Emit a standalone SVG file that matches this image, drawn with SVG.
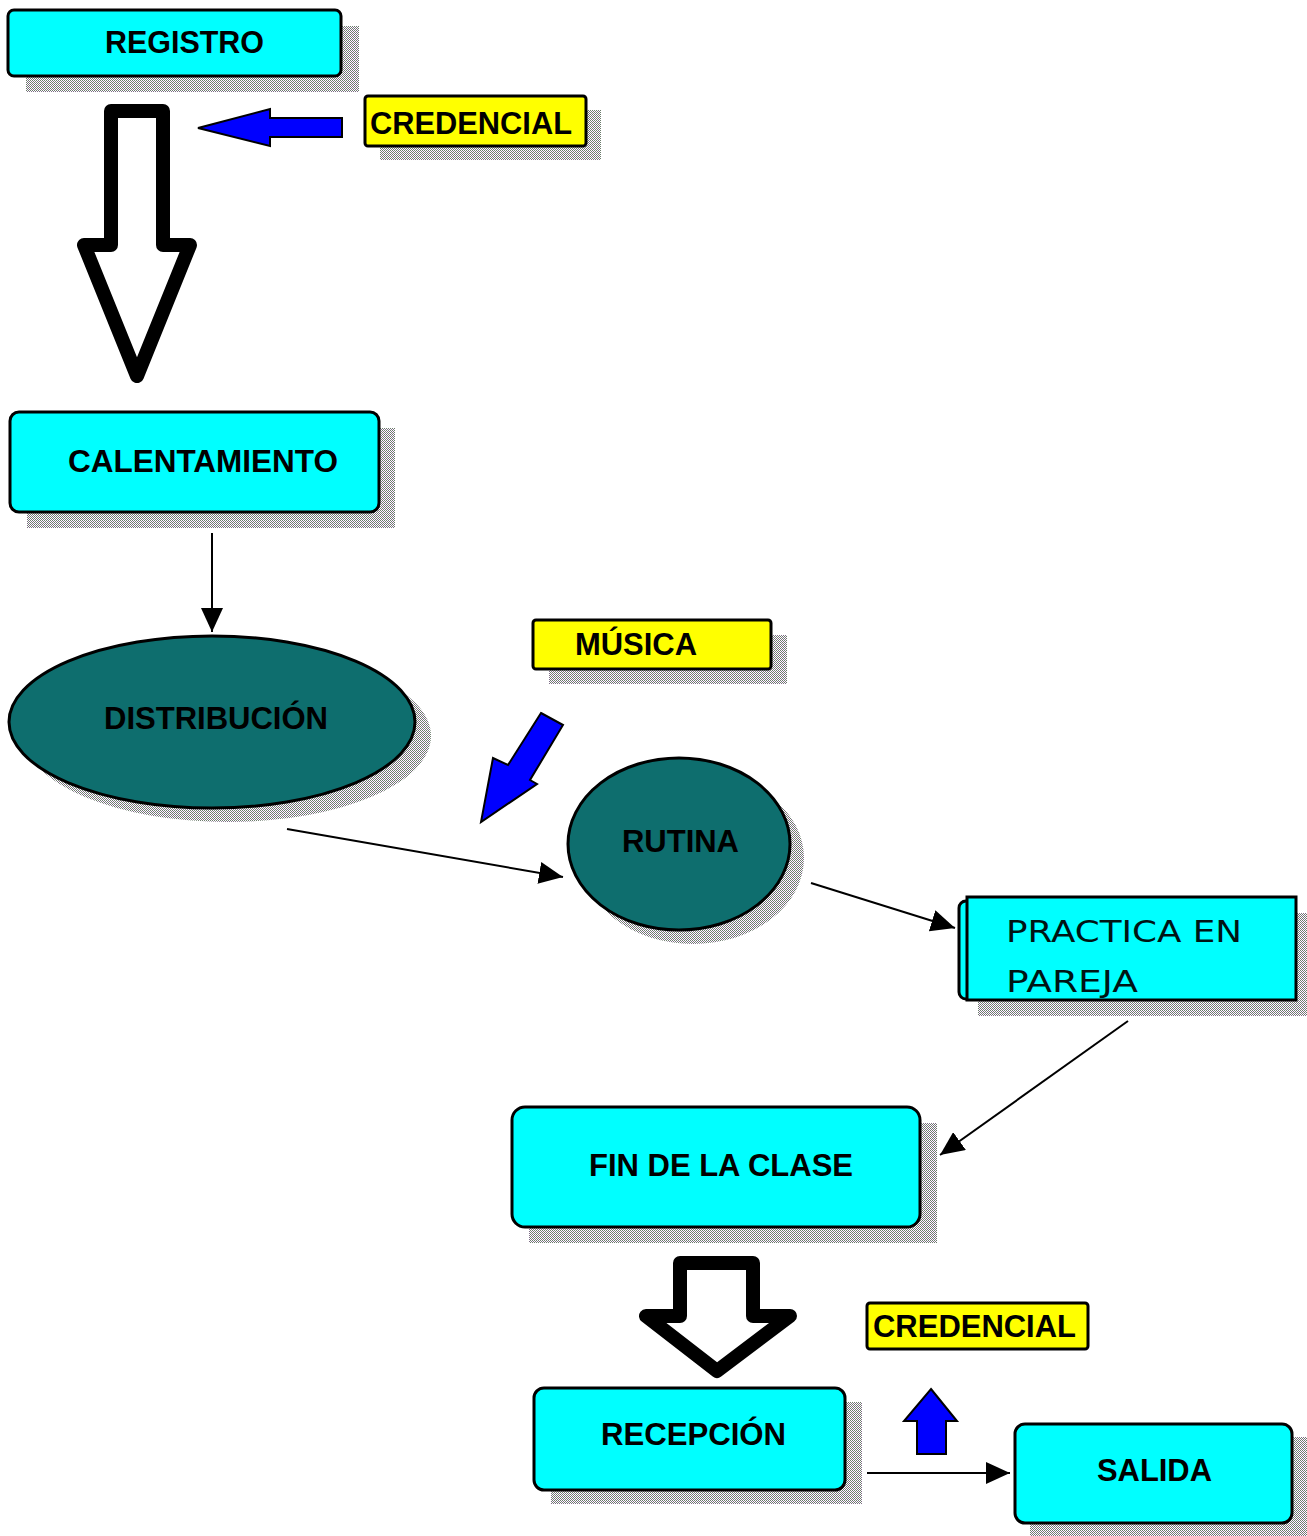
<svg xmlns="http://www.w3.org/2000/svg" width="1307" height="1536" viewBox="0 0 1307 1536">
<style>
.box{fill:#00ffff;stroke:#000;stroke-width:3}
.ybox{fill:#ffff00;stroke:#000;stroke-width:3}
.ell{fill:#0e6e6e;stroke:#000;stroke-width:3}
.sh{fill:url(#dither)}
.lbl{font-family:"Liberation Sans",Arial,sans-serif;font-weight:bold;font-size:31px;fill:#000}
.reg{font-family:"DejaVu Sans",Verdana,sans-serif;font-size:31px;fill:#001414}
.conn{stroke:#000;stroke-width:2;fill:none}
.block{fill:#fff;stroke:#000;stroke-width:14;stroke-linejoin:round}
.blue{fill:#0000ff;stroke:#000;stroke-width:2}
</style>
<defs>
<pattern id="dither" width="2" height="2" patternUnits="userSpaceOnUse">
<rect width="2" height="2" fill="#ffffff"/>
<rect width="1" height="1" fill="#6a7a6a"/>
<rect x="1" y="1" width="1" height="1" fill="#7e6e86"/>
</pattern>
<marker id="ah" markerUnits="userSpaceOnUse" markerWidth="26" markerHeight="22" refX="24" refY="11" orient="auto">
<path d="M0,0 L24,11 L0,22 Z" fill="#000"/>
</marker>
</defs>
<rect width="1307" height="1536" fill="#fff"/>

<g id="connectors">
<line class="conn" x1="212" y1="533" x2="212" y2="632" marker-end="url(#ah)"/>
<line class="conn" x1="287" y1="829" x2="563" y2="877" marker-end="url(#ah)"/>
<line class="conn" x1="811" y1="883" x2="955" y2="928" marker-end="url(#ah)"/>
<line class="conn" x1="1128" y1="1021" x2="940" y2="1155" marker-end="url(#ah)"/>
<line class="conn" x1="867" y1="1473" x2="1010" y2="1473" marker-end="url(#ah)"/>
<polygon class="block" points="111,111 163,111 163,245 190,245 137,376 84,245 111,245"/>
<polygon class="block" points="680,1263 753,1263 753,1316 790,1316 717,1371 646,1316 680,1316"/>
<polygon class="blue" points="342,118 270,118 270,109 198,128 270,146 270,137 342,137"/>
<polygon class="blue" points="541,713 563,725 530,780 537,784 481,822 493,758 508,765"/>
<polygon class="blue" points="931,1389 957,1421 946,1421 946,1454 917,1454 917,1421 904,1421"/>
</g>

<g id="registro">
<rect class="sh" x="26" y="26" width="333" height="66"/>
<rect class="box" x="8" y="10" width="333" height="66" rx="6"/>
<text class="lbl" x="105" y="53" textLength="159" lengthAdjust="spacingAndGlyphs">REGISTRO</text>
</g>

<g id="credencial1">
<rect class="sh" x="380" y="110" width="221" height="50"/>
<rect class="ybox" x="365" y="96" width="221" height="50" rx="3"/>
<text class="lbl" x="370" y="134" textLength="202" lengthAdjust="spacingAndGlyphs">CREDENCIAL</text>
</g>

<g id="calentamiento">
<rect class="sh" x="27" y="428" width="368" height="100"/>
<rect class="box" x="10" y="412" width="369" height="100" rx="9"/>
<text class="lbl" x="68" y="472" textLength="270" lengthAdjust="spacingAndGlyphs">CALENTAMIENTO</text>
</g>

<g id="distribucion">
<ellipse class="sh" cx="228" cy="736" rx="203" ry="86"/>
<ellipse class="ell" cx="212" cy="722" rx="203" ry="86"/>
<text class="lbl" x="104" y="729" textLength="224" lengthAdjust="spacingAndGlyphs">DISTRIBUCIÓN</text>
</g>

<g id="musica">
<rect class="sh" x="549" y="635" width="238" height="49"/>
<rect class="ybox" x="533" y="620" width="238" height="49" rx="3"/>
<text class="lbl" x="575" y="655" textLength="122" lengthAdjust="spacingAndGlyphs">MÚSICA</text>
</g>

<g id="rutina">
<ellipse class="sh" cx="693" cy="858" rx="111" ry="86"/>
<ellipse class="ell" cx="679" cy="844" rx="111" ry="86"/>
<text class="lbl" x="622" y="852" textLength="117" lengthAdjust="spacingAndGlyphs">RUTINA</text>
</g>

<g id="practica">
<rect class="sh" x="978" y="913" width="329" height="103"/>
<rect class="box" x="959" y="901" width="330" height="98" rx="7"/>
<rect class="box" x="967" y="897" width="329" height="103"/>
<text class="reg" x="1006" y="942" textLength="236" lengthAdjust="spacingAndGlyphs">PRACTICA EN</text>
<text class="reg" x="1006" y="992" textLength="132" lengthAdjust="spacingAndGlyphs">PAREJA</text>
</g>

<g id="fin">
<rect class="sh" x="529" y="1123" width="408" height="120"/>
<rect class="box" x="512" y="1107" width="408" height="120" rx="13"/>
<text class="lbl" x="589" y="1176" textLength="264" lengthAdjust="spacingAndGlyphs">FIN DE LA CLASE</text>
</g>

<g id="credencial2">
<rect class="ybox" x="867" y="1303" width="221" height="46" rx="3"/>
<text class="lbl" x="873" y="1337" textLength="203" lengthAdjust="spacingAndGlyphs">CREDENCIAL</text>
</g>

<g id="recepcion">
<rect class="sh" x="551" y="1402" width="311" height="102"/>
<rect class="box" x="534" y="1388" width="311" height="102" rx="10"/>
<text class="lbl" x="601" y="1445" textLength="185" lengthAdjust="spacingAndGlyphs">RECEPCIÓN</text>
</g>

<g id="salida">
<rect class="sh" x="1030" y="1437" width="277" height="99"/>
<rect class="box" x="1015" y="1424" width="277" height="99" rx="10"/>
<text class="lbl" x="1097" y="1481" textLength="115" lengthAdjust="spacingAndGlyphs">SALIDA</text>
</g>
</svg>
